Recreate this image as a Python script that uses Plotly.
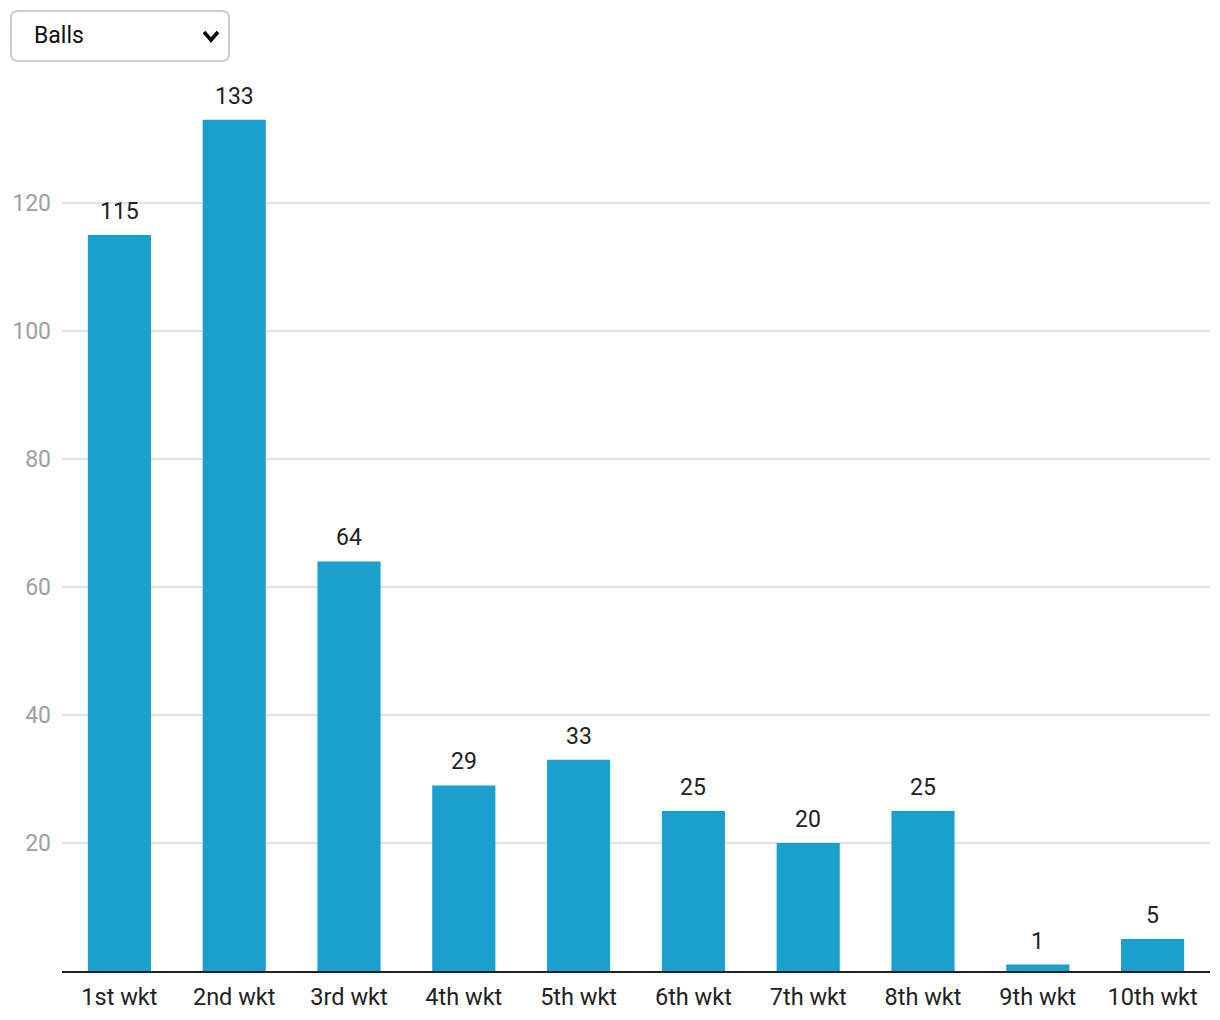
import plotly.graph_objects as go

categories = ["1st wkt", "2nd wkt", "3rd wkt", "4th wkt", "5th wkt",
              "6th wkt", "7th wkt", "8th wkt", "9th wkt", "10th wkt"]
balls = [115, 133, 64, 29, 33, 25, 20, 25, 1, 5]
y_ticks = [20, 40, 60, 80, 100, 120]
menu_label = "Balls"

# page has an 8px body margin; figure coordinates are offset by it
W, H = 1204, 1004
L, R, T, B = 54, 2, 67, 41
pw, ph = W - L - R, H - T - B
OFF = 8

def px_x(x):
    return (x - OFF - L) / pw

def px_y(y):
    return (H - B - (y - OFF)) / ph

fig = go.Figure()
fig.add_trace(go.Bar(
    x=categories, y=balls,
    marker=dict(color="#19a0cd", line=dict(width=0)),
    cliponaxis=False, hoverinfo="x+y",
))

# dropdown look-alike
cx, cy = px_x(120), px_y(36)
w2, h2, r = 109, 25, 7
box = (f"M {-w2 + r},{-h2} L {w2 - r},{-h2} Q {w2},{-h2} {w2},{-h2 + r} "
       f"L {w2},{h2 - r} Q {w2},{h2} {w2 - r},{h2} L {-w2 + r},{h2} "
       f"Q {-w2},{h2} {-w2},{h2 - r} L {-w2},{-h2 + r} Q {-w2},{-h2} {-w2 + r},{-h2} Z")
shapes = [
    dict(type="path", xref="paper", yref="paper", xsizemode="pixel", ysizemode="pixel",
         xanchor=cx, yanchor=cy, path=box, line=dict(color="#cccccc", width=2),
         fillcolor="white", layer="above"),
    dict(type="path", xref="paper", yref="paper", xsizemode="pixel", ysizemode="pixel",
         xanchor=cx, yanchor=cy, path="M 84,4 L 91,-4 L 98,4",
         line=dict(color="#000000", width=3.5), layer="above"),
]
annotations = [
    dict(text=menu_label, xref="paper", yref="paper", x=px_x(32), y=cy,
         xanchor="left", yanchor="middle", showarrow=False,
         font=dict(family="Roboto", size=23, color="#111111")),
]
for c, v in zip(categories, balls):
    annotations.append(dict(
        x=c, y=v, xref="x", yref="y", text=str(v), showarrow=False,
        xanchor="center", yanchor="bottom", yshift=8,
        font=dict(family="Roboto", size=23, color="#222222"),
    ))

fig.update_layout(
    width=W, height=H,
    margin=dict(l=L, r=R, t=T, b=B),
    plot_bgcolor="white", paper_bgcolor="white",
    bargap=0.45,
    showlegend=False,
    font=dict(family="Roboto"),
    shapes=shapes, annotations=annotations,
    xaxis=dict(showline=True, linecolor="#222222", linewidth=2, ticks="",
               ticklabelstandoff=4,
               tickfont=dict(family="Roboto", size=23.5, color="#222222"),
               showgrid=False, fixedrange=True),
    yaxis=dict(range=[0, 140], tickvals=y_ticks, showgrid=True, gridcolor="#e3e3e3",
               gridwidth=1.5, zeroline=False, showline=False, ticks="",
               ticklabelstandoff=10,
               tickfont=dict(family="Roboto", size=23, color="#a0a0a0"), fixedrange=True),
)

fig.write_html("out.html")
